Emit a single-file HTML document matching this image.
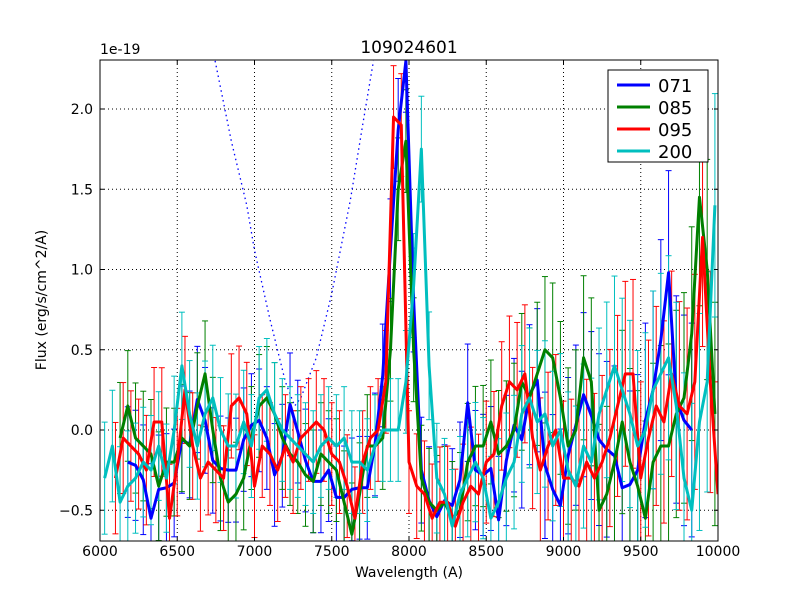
<!DOCTYPE html>
<html><head><meta charset="utf-8"><style>
body{margin:0;background:#fff;}
svg{display:block;font-family:"DejaVu Sans","Liberation Sans",sans-serif;}
</style></head><body>
<svg id="chart" width="800" height="600" xmlns="http://www.w3.org/2000/svg">
<defs><clipPath id="clip"><rect x="100" y="60" width="618" height="481"/></clipPath></defs>
<rect x="0" y="0" width="800" height="600" fill="#fff"/>
<g id="grid"></g>
<g id="series" clip-path="url(#clip)"></g>
<rect x="100" y="60" width="618" height="481" fill="none" stroke="#000" stroke-width="1"/>
<g id="axes"></g>
<text x="409" y="53" font-size="17" text-anchor="middle">109024601</text>
<text x="100" y="54" font-size="14">1e-19</text>
<text x="409" y="577" font-size="14" text-anchor="middle">Wavelength (A)</text>
<text x="46" y="300" font-size="14" text-anchor="middle" transform="rotate(-90 46 300)">Flux (erg/s/cm^2/A)</text>
<g id="legend"></g>
</svg>
<script>
const xTicks=[6000,6500,7000,7500,8000,8500,9000,9500,10000];
const yTicks=[-0.5,0.0,0.5,1.0,1.5,2.0];
const yTickLabels=["\u22120.5","0.0","0.5","1.0","1.5","2.0"];
const seriesNames=["071","085","095","200"];
const seriesColors=["#0000ff","#008000","#ff0000","#00bfbf"];
const step=50;
const start071=6180;
const flux071=[-0.20,-0.22,-0.31,-0.55,-0.37,-0.36,-0.33,-0.06,-0.09,0.19,0.06,-0.19,-0.24,-0.25,-0.25,-0.06,0.03,0.06,-0.05,-0.28,-0.16,0.16,-0.01,-0.19,-0.32,-0.32,-0.25,-0.42,-0.42,-0.37,-0.36,-0.36,-0.09,0.34,1.12,1.87,2.3,0.81,-0.25,-0.44,-0.54,-0.44,-0.47,-0.31,0.17,-0.25,-0.28,-0.24,-0.56,-0.19,0.03,-0.06,0.22,0.31,-0.22,-0.37,-0.47,-0.16,0.03,0.22,0.09,-0.06,-0.12,-0.16,-0.36,-0.34,-0.25,0.06,0.25,0.56,0.98,0.19,0.06,0.0];
const start085=6130;
const flux085=[-0.05,0.15,-0.05,-0.1,-0.15,-0.35,-0.2,-0.2,-0.05,-0.1,0.15,0.35,0.0,-0.3,-0.45,-0.4,-0.3,-0.05,0.15,0.2,0.1,-0.05,-0.15,-0.2,-0.28,-0.32,-0.15,-0.2,-0.25,-0.45,-0.65,-0.4,-0.1,-0.1,-0.05,0.5,1.5,1.8,0.5,-0.3,-0.45,-0.5,-0.45,-0.55,-0.5,-0.2,-0.1,-0.1,0.05,-0.15,-0.1,0.0,0.3,0.2,0.35,0.5,0.45,0.2,-0.1,0.0,0.45,0.3,-0.5,-0.4,-0.2,0.05,-0.2,-0.35,-0.55,-0.2,-0.1,-0.1,0.1,0.2,0.6,1.45,1.0,0.1];
const start095=6100;
const flux095=[-0.3,-0.05,-0.1,-0.15,-0.25,0.05,0.05,-0.55,-0.2,0.25,-0.1,-0.3,-0.2,-0.25,-0.3,0.15,0.2,0.1,-0.35,-0.1,-0.15,-0.25,-0.1,-0.2,-0.05,0.0,0.05,0.0,-0.15,-0.2,-0.35,-0.55,-0.2,-0.05,0.0,0.3,1.95,1.9,-0.2,-0.35,-0.4,-0.55,-0.45,-0.45,-0.6,-0.45,-0.35,-0.4,-0.2,-0.15,0.15,0.3,0.25,0.35,-0.05,-0.25,-0.1,0.0,-0.3,-0.3,-0.35,-0.2,-0.3,-0.2,-0.05,0.15,0.35,0.35,-0.3,-0.05,0.15,0.05,0.35,0.15,0.1,0.3,1.2,0.3,-0.4];
const start200=6030;
const flux200=[-0.3,-0.1,-0.45,-0.35,-0.3,-0.2,-0.25,-0.1,-0.3,0.0,0.4,0.1,-0.1,0.1,0.2,0.0,-0.1,-0.1,0.05,-0.1,0.2,0.25,0.1,0.0,-0.05,-0.1,-0.15,-0.2,-0.1,-0.05,-0.1,-0.05,-0.2,-0.2,-0.25,-0.1,0.0,0.0,0.0,0.3,0.9,1.75,0.4,-0.3,-0.4,-0.6,-0.4,-0.3,-0.2,-0.3,-0.55,-0.45,-0.3,-0.2,0.1,0.2,0.05,0.1,-0.1,0.0,-0.25,-0.35,-0.1,-0.2,0.1,0.25,0.4,0.25,0.1,-0.1,0.0,0.25,0.35,0.45,0.15,-0.3,-0.5,0.05,0.3,1.4];
const errBandWave=[6000,7000,8000,8500,9000,9500,10000];
const errBandSize=[0.35,0.32,0.32,0.38,0.48,0.6,0.7];
const modelWave=[6745,6850,6950,7000,7100,7200,7260,7300,7400,7500,7620,7700,7770];
const modelFlux=[2.3,1.8,1.4,1.12,0.69,0.3,0.15,0.2,0.45,0.85,1.43,1.9,2.3];

const X=v=>100+(v-6000)*618/4000;
const Y=v=>430-v*160.5;
const NS="http://www.w3.org/2000/svg";
function mk(tag,attrs,parent){const e=document.createElementNS(NS,tag);for(const k in attrs)e.setAttribute(k,attrs[k]);parent.appendChild(e);return e;}
function errAt(w){for(let i=1;i<errBandWave.length;i++){if(w<=errBandWave[i]){const t=(w-errBandWave[i-1])/(errBandWave[i]-errBandWave[i-1]);return errBandSize[i-1]+t*(errBandSize[i]-errBandSize[i-1]);}}return errBandSize[errBandSize.length-1];}
const grid=document.getElementById('grid'),axes=document.getElementById('axes'),ser=document.getElementById('series'),leg=document.getElementById('legend');
xTicks.forEach((t,i)=>{
 const x=X(t);
 if(i>0&&i<xTicks.length-1){const g=mk('line',{x1:x,x2:x,y1:60,y2:541,stroke:'#000','stroke-dasharray':'1,3'},grid);
 
 }
 mk('line',{x1:x,x2:x,y1:541,y2:537,stroke:'#000'},axes);
 mk('line',{x1:x,x2:x,y1:60,y2:64,stroke:'#000'},axes);
 const tx=mk('text',{x:x,y:556,'font-size':14,'text-anchor':'middle'},axes);tx.textContent=t;
 
 
});
yTicks.forEach((t,i)=>{
 const y=Y(t);
 const g=mk('line',{x1:100,x2:718,y1:y,y2:y,stroke:'#000','stroke-dasharray':'1,3'},grid);
 
 
 mk('line',{x1:100,x2:104,y1:y,y2:y,stroke:'#000'},axes);
 mk('line',{x1:718,x2:714,y1:y,y2:y,stroke:'#000'},axes);
 const tx=mk('text',{x:93,y:y+5,'font-size':14,'text-anchor':'end'},axes);tx.textContent=yTickLabels[i];
 
 
});
const mp=mk('polyline',{points:modelWave.map((w,i)=>X(w)+','+Y(modelFlux[i])).join(' '),fill:'none',stroke:'#0000ff','stroke-width':1.3,'stroke-dasharray':'1.5,3.5'},ser);


const all=[[start071,flux071],[start085,flux085],[start095,flux095],[start200,flux200]];
all.forEach((s,si)=>{
 const g=mk('g',{stroke:seriesColors[si],'stroke-width':1},ser);
 
 
 s[1].forEach((v,i)=>{const w=s[0]+i*step,x=X(w),e=errAt(w);
  mk('line',{x1:x,x2:x,y1:Y(v-e),y2:Y(v+e)},g);
  mk('line',{x1:x-3,x2:x+3,y1:Y(v-e),y2:Y(v-e)},g);
  mk('line',{x1:x-3,x2:x+3,y1:Y(v+e),y2:Y(v+e)},g);});
});
all.forEach((s,si)=>{
 const p=mk('polyline',{points:s[1].map((v,i)=>X(s[0]+i*step)+','+Y(v)).join(' '),fill:'none',stroke:seriesColors[si],'stroke-width':3,'stroke-linejoin':'round'},ser);
 
 
});
mk('rect',{x:608,y:70,width:100,height:92,fill:'#fff',stroke:'#000'},leg);
seriesNames.forEach((n,i)=>{
 const y=85+i*22;
 const g=mk('g',{},leg);
 
 
 mk('line',{x1:617,x2:650,y1:y,y2:y,stroke:seriesColors[i],'stroke-width':3},g);
 const t=mk('text',{x:658,y:y+7,'font-size':18},g);t.textContent=n;
});
</script>
</body></html>
